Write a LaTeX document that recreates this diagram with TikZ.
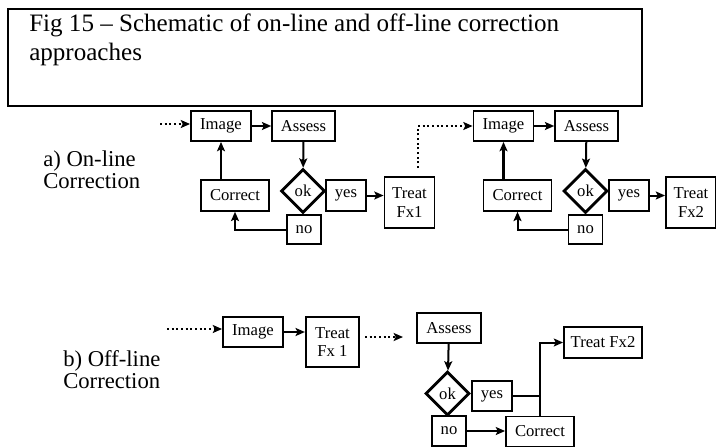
\documentclass[tikz,border=0pt]{standalone}
\usepackage{fontspec}
\setmainfont{Liberation Serif}
\usetikzlibrary{shapes.geometric, arrows.meta, calc}

\tikzset{
  box/.style={draw, line width=1.4pt, inner sep=0pt,
    font=\fontsize{12.5}{14}\selectfont},
  twoline/.style={box, align=center},
  okdiamond/.style={draw, diamond, line width=2.2pt, inner sep=0pt,
    minimum width=33pt, minimum height=33pt, font=\fontsize{12.5}{14}\selectfont},
  flow/.style={line width=1.5pt, -{Stealth[length=7pt, width=6pt, inset=1.5pt]}},
  heavy/.style={flow, line width=2.2pt},
  dotflow/.style={flow, dotted, line width=1.4pt},
  label/.style={anchor=base west, align=left, inner sep=0pt,
    font=\fontsize{17}{16.5}\selectfont}
}

\begin{document}
\begin{tikzpicture}[x=0.75pt, y=-0.75pt]
  \useasboundingbox (0,0) rectangle (716,446);

  % Caption
  \draw[line width=1.1pt] (8,9) rectangle (642,106);
  \node[label, font=\fontsize{18.8}{21}\selectfont] (caption) at (29,60)
    {Fig 15 -- Schematic of on-line and off-line correction\\approaches};

  % a) On-line correction, fraction 1
  \node[label] (online) at (43,188) {a) On-line\\Correction};
  \node[box, minimum width=45pt, minimum height=22.5pt] (image1) at (221,126) {Image};
  \node[box, minimum width=47pt, minimum height=22.5pt] (assess1) at (303.5,126) {Assess};
  \node[okdiamond] (ok1) at (303,191) {ok};
  \node[box, minimum width=30pt, minimum height=23pt] (yes1) at (346,195.5) {yes};
  \node[twoline, minimum width=37.5pt, minimum height=38pt] (treat1) at (409.5,202.5) {Treat\\Fx1};
  \node[box, minimum width=51pt, minimum height=23pt] (correct1) at (235,195.5) {Correct};
  \node[box, minimum width=25.5pt, minimum height=22pt] (no1) at (304,229.5) {no};
  \coordinate (start1) at (160,124);

  \draw[dotflow] (start1) -- (start1 -| image1.west);
  \draw[flow] (image1) -- (assess1);
  \draw[flow] (assess1) -- (ok1);
  \draw[flow] (yes1.east) -- (yes1.east -| treat1.west);
  \draw[heavy] (correct1.north -| image1.south) -- (image1.south);
  \draw[flow] (no1.west) -| (correct1.south);

  % a) On-line correction, fraction 2
  \node[box, minimum width=45pt, minimum height=22.5pt] (image2) at (503.5,126) {Image};
  \node[box, minimum width=47pt, minimum height=22.5pt] (assess2) at (586.5,126) {Assess};
  \node[okdiamond] (ok2) at (585.5,191) {ok};
  \node[box, minimum width=30pt, minimum height=23pt] (yes2) at (629,195.5) {yes};
  \node[twoline, minimum width=37.5pt, minimum height=38pt] (treat2) at (691,202.5) {Treat\\Fx2};
  \node[box, minimum width=51pt, minimum height=23pt] (correct2) at (517.5,195.5) {Correct};
  \node[box, minimum width=25.5pt, minimum height=22pt] (no2) at (585.5,229.5) {no};
  \coordinate (hop1) at (418,168);

  \draw[dotflow] (hop1) |- (image2.west);
  \draw[flow] (image2) -- (assess2);
  \draw[flow] (assess2) -- (ok2);
  \draw[flow] (yes2.east) -- (yes2.east -| treat2.west);
  \draw[heavy] (correct2.north -| image2.south) -- (image2.south);
  \draw[flow] (no2.west) -| (correct2.south);

  % b) Off-line correction
  \node[label] (offline) at (63,388) {b) Off-line\\Correction};
  \node[box, minimum width=45pt, minimum height=22.5pt] (imageb) at (253,332) {Image};
  \node[twoline, minimum width=40pt, minimum height=37.5pt] (treatb) at (332.5,342) {Treat\\Fx 1};
  \node[box, minimum width=48pt, minimum height=22.5pt] (assessb) at (449,328) {Assess};
  \node[okdiamond] (okb) at (447.5,393.5) {ok};
  \node[box, minimum width=30pt, minimum height=22.5pt] (yesb) at (492,396) {yes};
  \node[box, minimum width=25.5pt, minimum height=22.5pt] (nob) at (449,431) {no};
  \node[box, minimum width=51pt, minimum height=22.5pt] (correctb) at (540,431.5) {Correct};
  \node[box, minimum width=58.5pt, minimum height=23pt] (treatfx) at (603,342.5) {Treat Fx2};
  \coordinate (startb) at (167,329);
  \coordinate (gapb) at (365,337);
  \coordinate (gape) at (403,337);

  \draw[dotflow] (startb) -- (startb -| imageb.west);
  \draw[flow] (imageb) -- (imageb -| treatb.west);
  \draw[dotflow] (gapb) -- (gape);
  \draw[flow] (assessb) -- (okb);
  \draw[flow] (nob) -- (nob -| correctb.west);
  \draw[line width=1.5pt] (yesb.east) -- (yesb.east -| correctb.north);
  \draw[flow] (correctb.north) |- (treatfx.west);
\end{tikzpicture}
\end{document}
